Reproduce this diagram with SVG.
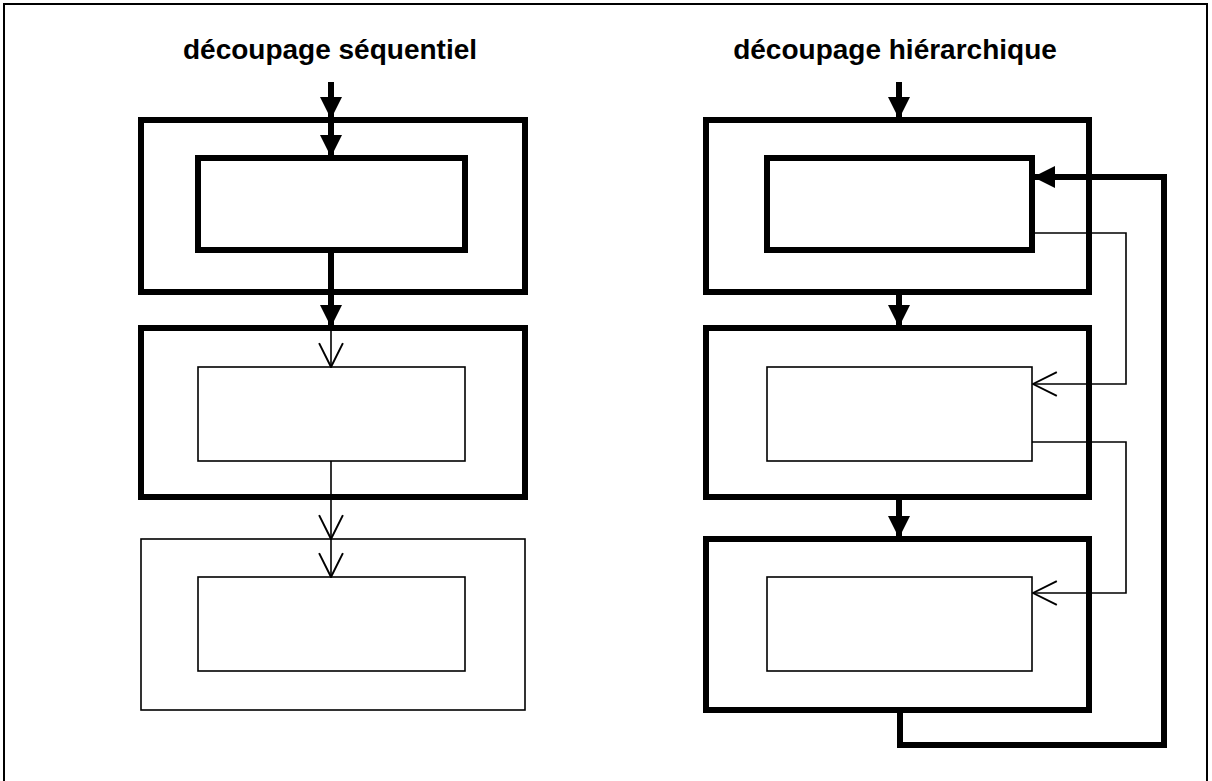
<svg xmlns="http://www.w3.org/2000/svg" width="1212" height="781" viewBox="0 0 1212 781">
<style>
.frame{fill:none;stroke:#000;stroke-width:2}
.thick{fill:none;stroke:#000;stroke-width:6}
.thin{fill:none;stroke:#000;stroke-width:1.6}
.title{font-family:"Liberation Sans",Arial,sans-serif;font-weight:bold;font-size:28px;fill:#000;text-anchor:middle}
</style>
<defs>
<marker id="fill" markerUnits="userSpaceOnUse" markerWidth="22" markerHeight="22" viewBox="0 0 20 20" refX="20" refY="10" orient="auto">
<path d="M0,0 L20,10 L0,20 Z" fill="#000"/>
</marker>
<marker id="open" markerUnits="userSpaceOnUse" markerWidth="26" markerHeight="26" viewBox="0 0 24 24" refX="23" refY="12" orient="auto">
<path d="M1,1 L23,12 L1,23" fill="none" stroke="#000" stroke-width="1.8"/>
</marker>
</defs>
<rect class="frame" x="4" y="4" width="1203" height="778"/>
<text class="title" x="330" y="59">découpage séquentiel</text>
<text class="title" x="895" y="59">découpage hiérarchique</text>
<g id="seq1"><rect class="thick" x="141" y="120" width="384" height="172"/></g>
<g id="seq1in"><rect class="thick" x="198" y="158" width="267" height="92"/></g>
<g id="seq2"><rect class="thick" x="141" y="328" width="384" height="169"/></g>
<g id="seq2in"><rect class="thin" x="198" y="367" width="267" height="94"/></g>
<g id="seq3"><rect class="thin" x="141" y="539" width="384" height="171"/></g>
<g id="seq3in"><rect class="thin" x="198" y="577" width="267" height="94"/></g>
<g id="hier1"><rect class="thick" x="706" y="120" width="383" height="172"/></g>
<g id="hier1in"><rect class="thick" x="767" y="158" width="265" height="92"/></g>
<g id="hier2"><rect class="thick" x="706" y="328" width="383" height="169"/></g>
<g id="hier2in"><rect class="thin" x="767" y="367" width="265" height="94"/></g>
<g id="hier3"><rect class="thick" x="706" y="539" width="383" height="171"/></g>
<g id="hier3in"><rect class="thin" x="767" y="577" width="265" height="94"/></g>
<g id="connectors">
<line class="thick" x1="331" y1="82" x2="331" y2="119" marker-end="url(#fill)"/>
<line class="thick" x1="331" y1="120" x2="331" y2="157" marker-end="url(#fill)"/>
<line class="thick" x1="331" y1="250" x2="331" y2="327" marker-end="url(#fill)"/>
<line class="thin" x1="331" y1="328" x2="331" y2="367" marker-end="url(#open)"/>
<line class="thin" x1="331" y1="461" x2="331" y2="539" marker-end="url(#open)"/>
<line class="thin" x1="331" y1="539" x2="331" y2="577" marker-end="url(#open)"/>
<line class="thick" x1="899" y1="82" x2="899" y2="119" marker-end="url(#fill)"/>
<line class="thick" x1="899" y1="292" x2="899" y2="327" marker-end="url(#fill)"/>
<line class="thick" x1="899" y1="497" x2="899" y2="538" marker-end="url(#fill)"/>
<polyline class="thick" points="900,710 900,745 1164,745 1164,177 1033,177" marker-end="url(#fill)"/>
<polyline class="thin" points="1032,233 1126,233 1126,384 1033,384" marker-end="url(#open)"/>
<polyline class="thin" points="1032,442 1126,442 1126,593 1033,593" marker-end="url(#open)"/>
</g>
</svg>
